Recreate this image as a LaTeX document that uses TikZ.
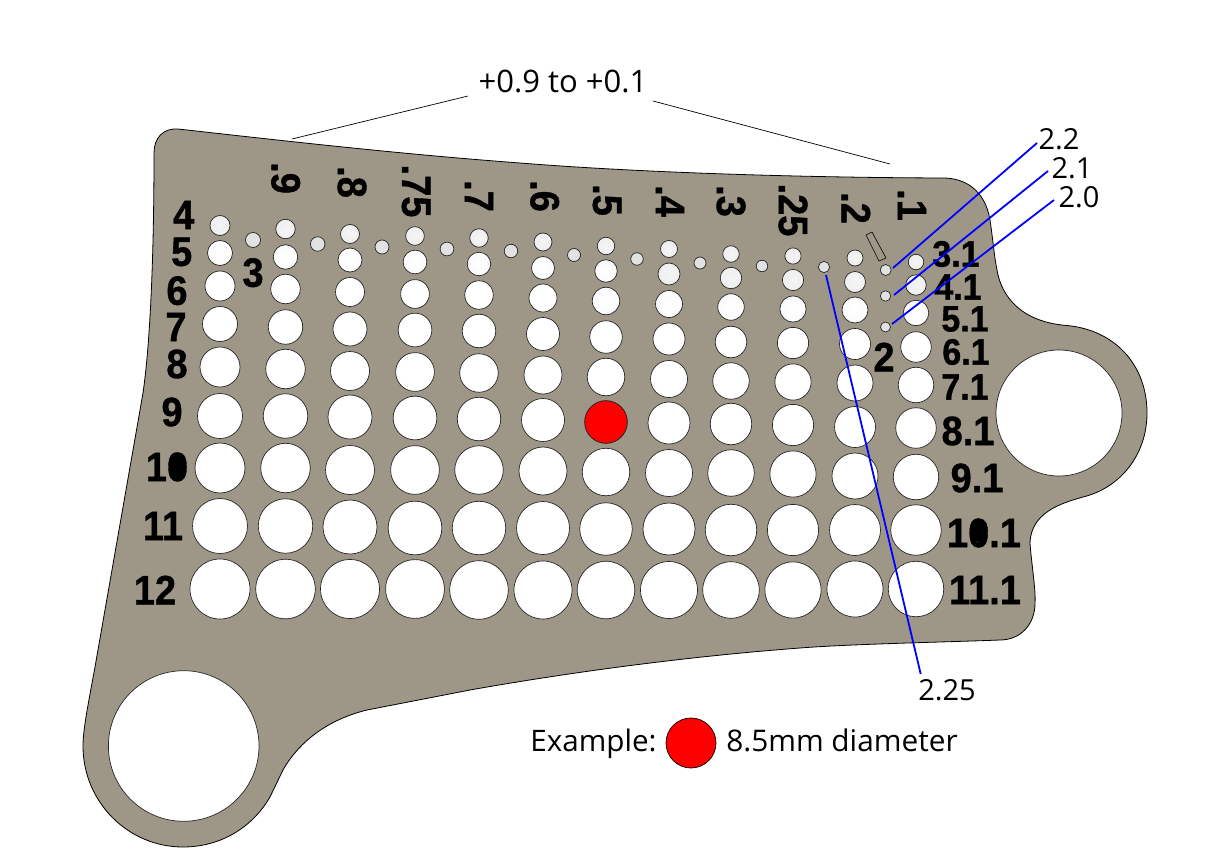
\documentclass[tikz,border=0pt]{standalone}
\usepackage{graphicx}
\usepackage{fontspec}
\setmainfont{Open Sans}
\newfontfamily\labfont[FakeBold=1]{Liberation Sans Bold}
\newcommand{\tallnum}[1]{\scalebox{1}[1.08]{#1}}
\definecolor{plate}{RGB}{158,151,136}
\definecolor{blueline}{RGB}{0,0,255}
\pgfdeclareradialshading{holeS}{\pgfpoint{0bp}{0bp}}{color(0bp)=(white!89!black); color(30bp)=(white!88!black); color(50bp)=(white!85!black)}
\pgfdeclareradialshading{holeA}{\pgfpoint{0bp}{0bp}}{color(0bp)=(white!96!black); color(30bp)=(white!93!black); color(50bp)=(white!86!black)}
\pgfdeclareradialshading{holeB}{\pgfpoint{0bp}{0bp}}{color(0bp)=(white); color(30bp)=(white!98!black); color(50bp)=(white!89!black)}
\pgfdeclareradialshading{holeL}{\pgfpoint{0bp}{0bp}}{color(0bp)=(white); color(42bp)=(white); color(50bp)=(white!92!black)}
\tikzset{
  holeedge/.style={draw=black!85,line width=0.7pt},
  bigbore/.style={holeedge,fill=white},
  biglabel/.style={inner sep=0pt,font=\labfont\fontsize{38}{38}\selectfont,text=black},
  midlabel/.style={inner sep=0pt,font=\labfont\fontsize{34}{34}\selectfont,text=black},
  collabel/.style={inner sep=0pt,rotate=-90,font=\labfont\fontsize{38}{38}\selectfont,text=black},
  calllabel/.style={inner sep=0pt,font=\fontsize{29}{29}\selectfont,text=black},
  blueconn/.style={draw=blueline,line width=1.8pt},
  blackconn/.style={draw=black,line width=0.7pt},
  zeroblob/.style={fill=black,draw=none}
}
\begin{document}
\begin{tikzpicture}[x=1pt,y=-1pt]
\useasboundingbox[fill=white] (0,0) rectangle (1205,859);
% plate
\draw[fill=plate,draw=black,line width=0.8pt,line join=round]
 (154,153) .. controls (154,138) and (163,128) .. (178,129)
 .. controls (290,141.5) and (400,154) .. (520,163)
 .. controls (640,172.6) and (800,177.5) .. (943,178)
 .. controls (965,178) and (985,190) .. (990,220)
 .. controls (993,240) and (994,255) .. (997,270)
 .. controls (1001,295) and (1020,322) .. (1067,325.5)
 .. controls (1115,330) and (1147,365) .. (1147,413)
 .. controls (1147,455) and (1120,488) .. (1083,497)
 .. controls (1062,503) and (1031,512) .. (1030,543)
 .. controls (1031,560) and (1036,590) .. (1035,603)
 .. controls (1035,625) and (1020,640) .. (1000,640)
 .. controls (950,642) and (850,644) .. (800,648)
 .. controls (680,657) and (560,674) .. (470,690)
 -- (367,710)
 .. controls (330,719) and (300,740) .. (283,770)
 -- (270,797)
 .. controls (252,828) and (220,847) .. (183,847)
 .. controls (128,847) and (83,802) .. (83,746)
 .. controls (83,730) and (88,705) .. (95,667)
 -- (143,393)
 .. controls (150,345) and (154,260) .. (154,153)
 -- cycle;
% bores
\draw[bigbore] (183.7,746) circle[radius=75.3pt];
\draw[bigbore] (1059,413) circle[radius=63pt];
% hole grid: column x / size offset / centres of rows 4..12
\foreach \cx/\off/\ys in {
 220/0/{225.5,253,286,324,367,416,468,526,589},
 285.5/-0.1/{229,257,289,327,369,416,468,526,589},
 350/-0.2/{234,260,292,329,371,417,470,527,589},
 415/-0.25/{236,262,294,330,372,418,470,528,589},
 479/-0.3/{238,264,295,331,373,419,470,528,590},
 543/-0.4/{242,268,298,334,375,420,471,528,590},
 606/-0.5/{246,271,301,337,377,422,472,529,590},
 669/-0.6/{249,274,304,339,379,423,473,529,590},
 731/-0.7/{254,278,307,342,381,424,473,530,590},
 793/-0.75/{256,280,309,343,382,425,474,530,590},
 855/-0.8/{258,282,310,344,383,427,476,530,589},
 916/-0.9/{262,285,313,347,385,428,477,530,589}}{
  \foreach \cy [count=\i from 4] in \ys {
    \pgfmathsetmacro{\rr}{2.5*(\i+\off)}
    \pgfmathtruncatemacro{\ski}{\rr<11 ? 1 : (\rr<14 ? 2 : 3)}
    \ifcase\ski\or
      \draw[holeedge,shade,shading=holeA] (\cx,\cy) circle[radius=\rr pt];
    \or
      \draw[holeedge,shade,shading=holeB] (\cx,\cy) circle[radius=\rr pt];
    \or
      \draw[holeedge,shade,shading=holeL] (\cx,\cy) circle[radius=\rr pt];
    \fi
  }
}
% small holes
\foreach \cx/\cy/\dd in {253/240/3,317.7/244/2.9,382/247/2.8,447/249/2.75,511/251/2.7,574/255/2.6,637/259/2.5,700/263/2.4,762/266/2.3,824/267/2.25,885.7/270/2.2,885.5/296/2.1,885.5/327/2}{
  \pgfmathsetmacro{\rr}{2.5*\dd}
  \draw[holeedge,shade,shading=holeS] (\cx,\cy) circle[radius=\rr pt];
}
% red example hole and slot
\draw[holeedge,fill=red] (606,422) circle[radius=21.25pt];
\draw[black,line width=0.6pt] (866,235) -- (872,232) -- (886,258) -- (879,261) -- cycle;
% row labels
\node[biglabel] (r4) at (183.7,215) {\tallnum{4}};
\node[biglabel] (r5) at (181.7,252) {\tallnum{5}};
\node[biglabel] (r6) at (177,290.7) {\tallnum{6}};
\node[biglabel] (r7) at (176,327) {\tallnum{7}};
\node[biglabel] (r8) at (177,364) {\tallnum{8}};
\node[biglabel] (r9) at (172,412) {\tallnum{9}};
\node[biglabel] (r10) at (167,467) {\tallnum{10}};
\node[biglabel] (r11) at (163,526) {\tallnum{11}};
\node[biglabel] (r12) at (155,590) {\tallnum{12}};
\node[biglabel] (r3) at (253,272.7) {\tallnum{3}};
\node[biglabel] (r2) at (884,357) {\tallnum{2}};
\fill[zeroblob] (179,467) ellipse[x radius=7pt,y radius=11pt];
\node[midlabel] (s3) at (956,254) {\tallnum{3.1}};
\node[midlabel] (s4) at (958,287) {\tallnum{4.1}};
\node[midlabel] (s5) at (965,319) {\tallnum{5.1}};
\node[midlabel] (s6) at (966,352) {\tallnum{6.1}};
\node[midlabel] (s7) at (965,387) {\tallnum{7.1}};
\node[biglabel] (s8) at (968,431) {\tallnum{8.1}};
\node[biglabel] (s9) at (977,478) {\tallnum{9.1}};
\node[biglabel] (s10) at (984,533) {\tallnum{10.1}};
\node[biglabel] (s11) at (985,590) {\tallnum{11.1}};
\fill[zeroblob] (980,532) ellipse[x radius=7pt,y radius=11pt];
% column labels
\node[collabel] (c9) at (285.7,178) {\tallnum{.9}};
\node[collabel] (c8) at (352,182) {\tallnum{.8}};
\node[collabel] (c75) at (416,191) {\tallnum{.75}};
\node[collabel] (c7) at (479,196) {\tallnum{.7}};
\node[collabel] (c6) at (544.7,196) {\tallnum{.6}};
\node[collabel] (c5) at (607,200) {\tallnum{.5}};
\node[collabel] (c4) at (670,201) {\tallnum{.4}};
\node[collabel] (c3) at (731,201) {\tallnum{.3}};
\node[collabel] (c25) at (793,210) {\tallnum{.25}};
\node[collabel] (c2) at (856,208) {\tallnum{.2}};
\node[collabel] (c1) at (912,205) {\tallnum{.1}};
% callouts
\node[calllabel] (t22) at (1059,139) {2.2};
\node[calllabel] (t21) at (1072,168) {2.1};
\node[calllabel] (t20) at (1079,197) {2.0};
\node[calllabel] (t225) at (947,690) {2.25};
\node[calllabel,font=\fontsize{31}{31}\selectfont] (range) at (563,81) {+0.9 to +0.1};
\node[calllabel,font=\fontsize{29.6}{29.6}\selectfont,anchor=base] (ex) at (593.5,751) {Example:};
\node[calllabel,font=\fontsize{29.8}{29.8}\selectfont,anchor=base] (dia) at (842,751) {8.5mm diameter};
\node[circle,draw=black,line width=0.7pt,fill=red,minimum size=50pt,inner sep=0pt] (exdot) at (691,743) {};
\coordinate (h22) at (893,268);
\coordinate (e22) at (1037,143);
\coordinate (h21) at (894,295);
\coordinate (e21) at (1048,171);
\coordinate (h20) at (892,324);
\coordinate (e20) at (1054,200);
\coordinate (h225) at (826,275);
\coordinate (e225) at (920.7,674);
\coordinate (la) at (468,96);
\coordinate (lb) at (292,139);
\coordinate (ra) at (653,101);
\coordinate (rb) at (890,164);
\draw[blueconn] (h22) -- (e22);
\draw[blueconn] (h21) -- (e21);
\draw[blueconn] (h20) -- (e20);
\draw[blueconn] (h225) -- (e225);
\draw[blackconn] (la) -- (lb);
\draw[blackconn] (ra) -- (rb);
\end{tikzpicture}
\end{document}
